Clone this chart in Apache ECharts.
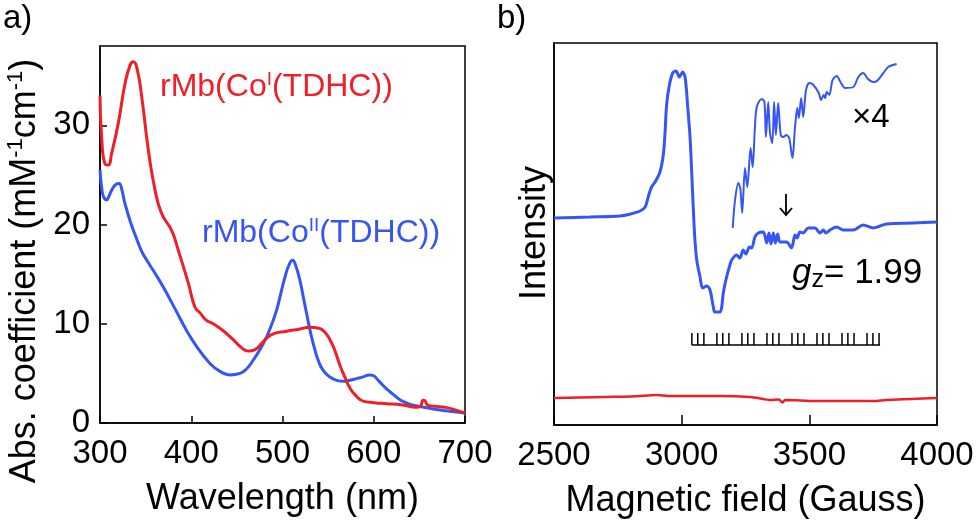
<!DOCTYPE html>
<html>
<head>
<meta charset="utf-8">
<script src="https://cdn.jsdelivr.net/npm/echarts@6/dist/echarts.min.js"></script>
<style>
  html, body { margin: 0; padding: 0; background: #fff; }
  #chart { width: 980px; height: 524px; }
</style>
</head>
<body>
<div id="chart"></div>
<script>
// a) absorption spectra  [wavelength nm, mM-1 cm-1]
var uvCoI = [
  [300, 33.0], [301.8, 28.8], [305.5, 26.1], [309, 26.0], [312.8, 27.2], [320, 30.2],
  [327.4, 34.2], [332.9, 36.05], [336.5, 36.4], [340.2, 35.9], [345.7, 32.9], [353, 27.5],
  [360.3, 23.5], [367.6, 21.1], [378.6, 19.4], [385.8, 17.4], [396.8, 14.1], [404, 11.7],
  [409.6, 11.1], [416, 10.4], [424, 10.0], [435, 9.3], [446, 8.4], [455, 7.6],
  [462.5, 7.25], [470, 7.4], [478, 8.1], [488, 8.9], [504.6, 9.25], [518, 9.45],
  [530, 9.65], [540, 9.55], [546, 9.2], [552, 8.4], [557, 7.4], [563, 5.8],
  [568, 4.7], [574, 3.5], [581, 2.7], [588.5, 2.2], [600, 2.05], [614, 1.95],
  [630, 1.85], [647, 1.6], [651, 1.65], [654, 2.3], [656, 2.25], [659, 1.8],
  [665, 1.7], [680, 1.55], [690, 1.3], [700, 1.0]
];
var uvCoII = [
  [300, 25.5], [302, 23.6], [304, 22.8], [307.3, 22.5], [310, 22.9], [313, 23.5],
  [318.3, 24.1], [321, 24.15], [324, 23.5], [327.4, 22.1], [334.7, 19.9], [340, 18.6],
  [345.7, 17.3], [352, 16.3], [360.3, 15.1], [371.2, 13.4], [384, 11.2], [395, 9.3],
  [406, 7.7], [420.5, 6.0], [431.5, 5.2], [442.5, 4.85], [453.4, 5.0], [461, 5.5],
  [468, 6.35], [476, 7.5], [482.7, 8.7], [488, 9.9], [493.6, 11.4], [498, 13.0],
  [502.7, 14.7], [507, 15.9], [511, 16.4], [514, 16.0], [519, 14.4], [523, 12.6],
  [526.5, 11.0], [531, 9.0], [535.6, 7.35], [540, 6.1], [544.7, 5.3], [551, 4.7],
  [559.3, 4.3], [567, 4.2], [574, 4.3], [582, 4.5], [588.5, 4.65], [595, 4.85],
  [599, 4.8], [605, 4.3], [611, 3.7], [617.8, 3.15], [625, 2.6], [632.4, 2.15],
  [641, 1.85], [650.7, 1.65], [660, 1.5], [672.6, 1.3], [686, 1.15], [700, 1.0]
];

// b) EPR  [field Gauss, intensity a.u.]
var eprCoII = [
  [2500, 207], [2641, 208], [2758, 209], [2800, 211], [2837, 214], [2857, 218],
  [2869, 228], [2882, 238], [2896, 243], [2915, 253], [2928, 270], [2935, 293],
  [2941, 320], [2952, 340], [2965, 352], [2978, 354], [2991, 348], [3004, 353],
  [3014, 347], [3024, 317], [3033, 287], [3042, 237], [3048, 203], [3052, 185],
  [3059, 165], [3072, 148], [3082, 137], [3098, 139], [3111, 135], [3124, 118],
  [3130, 113], [3150, 113], [3157, 118], [3163, 132], [3176, 148], [3189, 160],
  [3196, 165], [3215, 170], [3228, 167], [3241, 175], [3252, 171], [3265, 178],
  [3274, 177], [3287, 188], [3300, 192], [3320, 193], [3333, 182], [3342, 192],
  [3350, 181], [3359, 192], [3367, 182], [3376, 191], [3385, 183], [3411, 183],
  [3430, 177], [3444, 190], [3452, 187], [3463, 193], [3475, 192], [3496, 197],
  [3522, 197], [3542, 192], [3555, 195], [3565, 192], [3581, 195], [3607, 198],
  [3633, 195], [3672, 195], [3711, 200], [3750, 197], [3802, 201], [3907, 202],
  [4000, 203]
];
var eprCoIIx4 = [
  [3200, 197], [3209, 225], [3222, 242], [3230, 236], [3237, 212], [3248, 257],
  [3257, 238], [3270, 277], [3278, 258], [3287, 298], [3294, 318], [3313, 326],
  [3324, 323], [3330, 288], [3339, 323], [3346, 292], [3355, 282], [3362, 323],
  [3369, 290], [3378, 322], [3388, 290], [3398, 288], [3410, 290], [3421, 287],
  [3434, 267], [3444, 298], [3453, 317], [3459, 307], [3468, 327], [3476, 308],
  [3487, 335], [3500, 342], [3516, 340], [3537, 332], [3546, 325], [3556, 330],
  [3562, 327], [3568, 333], [3578, 330], [3591, 345], [3607, 349], [3622, 343],
  [3640, 337], [3672, 338], [3692, 348], [3711, 352], [3730, 346], [3750, 343],
  [3765, 344], [3790, 352], [3809, 358], [3842, 361]
];
var eprCoI = [
  [2500, 27], [2600, 27.5], [2700, 28], [2800, 28.5], [2870, 29.5], [2902, 30],
  [2950, 29], [3050, 29], [3150, 29], [3268, 28], [3320, 26], [3346, 25],
  [3380, 25.5], [3395, 22.5], [3405, 25], [3529, 24], [3650, 24], [3750, 24],
  [3800, 25], [3900, 26], [4000, 27]
];

// hyperfine stick pattern (Gauss)
var stickFields = [
  3040, 3063, 3087, 3138, 3161, 3185, 3236, 3259, 3283, 3334, 3357, 3381,
  3432, 3455, 3479, 3530, 3553, 3577, 3628, 3651, 3675, 3726, 3749, 3773
];
var stickBase = 80;
var stickTop = 92;

var RED = '#f01e26';
var BLUE = '#3655f5';
var FONT = 'Liberation Sans, Arial, sans-serif';

var chart = echarts.init(document.getElementById('chart'));

function xAx(grid, min, max, interval, name, tickLen) {
  return {
    type: 'value', gridIndex: grid, min: min, max: max, interval: interval,
    name: name, nameLocation: 'middle', nameGap: 58,
    nameTextStyle: { color: '#000', fontSize: 36, fontFamily: FONT },
    axisLine: { show: true, lineStyle: { color: '#000', width: 1.5 } },
    axisTick: { show: true, inside: true, length: tickLen, lineStyle: { color: '#000', width: 1.5 } },
    axisLabel: {
      color: '#000', fontSize: 33, fontFamily: FONT, margin: 14,
      formatter: function (v) { return String(v); }
    },
    splitLine: { show: false }
  };
}

var option = {
  animation: false,
  grid: [
    { left: 100, top: 46, width: 365, height: 377, show: true, borderColor: '#000', borderWidth: 1.5 },
    { left: 554, top: 43, width: 383, height: 382, show: true, borderColor: '#000', borderWidth: 1.5 }
  ],
  xAxis: [
    xAx(0, 300, 700, 100, 'Wavelength (nm)', 7),
    xAx(1, 2500, 4000, 500, 'Magnetic field (Gauss)', 10)
  ],
  yAxis: [
    {
      type: 'value', gridIndex: 0, min: 0, max: 38, interval: 10,
      axisLine: { show: true, lineStyle: { color: '#000', width: 1.5 } },
      axisTick: { show: true, inside: true, length: 7, lineStyle: { color: '#000', width: 1.5 } },
      axisLabel: { color: '#000', fontSize: 33, fontFamily: FONT, margin: 10, showMaxLabel: false },
      splitLine: { show: false }
    },
    {
      type: 'value', gridIndex: 1, min: 0, max: 382,
      axisLine: { show: true, lineStyle: { color: '#000', width: 1.5 } },
      axisTick: { show: false },
      axisLabel: { show: false },
      splitLine: { show: false }
    }
  ],
  series: [
    {
      type: 'line', xAxisIndex: 0, yAxisIndex: 0, data: uvCoII, showSymbol: false,
      smooth: 0.5, lineStyle: { color: BLUE, width: 3 }
    },
    {
      type: 'line', xAxisIndex: 0, yAxisIndex: 0, data: uvCoI, showSymbol: false,
      smooth: 0.5, lineStyle: { color: RED, width: 3 }
    },
    {
      type: 'line', xAxisIndex: 1, yAxisIndex: 1, data: eprCoII, showSymbol: false,
      smooth: 0.3, lineStyle: { color: BLUE, width: 3 }
    },
    {
      type: 'line', xAxisIndex: 1, yAxisIndex: 1, data: eprCoIIx4, showSymbol: false,
      smooth: 0.3, lineStyle: { color: BLUE, width: 2 }
    },
    {
      type: 'line', xAxisIndex: 1, yAxisIndex: 1, data: eprCoI, showSymbol: false,
      smooth: 0.3, lineStyle: { color: RED, width: 2.5 }
    },
    {
      type: 'line', xAxisIndex: 1, yAxisIndex: 1, showSymbol: false,
      data: [[stickFields[0], stickBase], [stickFields[stickFields.length - 1] + 4, stickBase]],
      lineStyle: { color: '#000', width: 1.5 }
    },
    {
      type: 'custom', xAxisIndex: 1, yAxisIndex: 1,
      data: stickFields.map(function (f) { return [f]; }),
      renderItem: function (params, api) {
        var p0 = api.coord([api.value(0), stickBase]);
        var p1 = api.coord([api.value(0), stickTop]);
        return {
          type: 'line',
          shape: { x1: p0[0], y1: p0[1], x2: p1[0], y2: p1[1] },
          style: { stroke: '#000', lineWidth: 1.5 }
        };
      }
    }
  ],
  graphic: [
    { type: 'text', left: 3, top: 2, style: { text: 'a)', fontSize: 33, fontFamily: FONT, fill: '#000' } },
    { type: 'text', left: 497, top: 2, style: { text: 'b)', fontSize: 33, fontFamily: FONT, fill: '#000' } },
    {
      type: 'text', x: 25, y: 271, rotation: Math.PI / 2,
      style: {
        text: '{n|Abs. coefficient (mM}{s|-1}{n|cm}{s|-1}{n|)}',
        textAlign: 'center', textVerticalAlign: 'middle', fill: '#000',
        rich: {
          n: { fontSize: 36, fontFamily: FONT, lineHeight: 40, fill: '#000' },
          s: { fontSize: 22, fontFamily: FONT, lineHeight: 40, verticalAlign: 'top', fill: '#000' }
        }
      }
    },
    {
      type: 'text', x: 535, y: 233, rotation: Math.PI / 2,
      style: { text: 'Intensity', fontSize: 36, fontFamily: FONT, fill: '#000', textAlign: 'center', textVerticalAlign: 'middle' }
    },
    {
      type: 'text', x: 160, y: 87,
      style: {
        text: '{n|rMb(Co}{s|I}{n|(TDHC))}',
        textAlign: 'left', textVerticalAlign: 'middle', fill: RED,
        rich: {
          n: { fontSize: 32, fontFamily: FONT, lineHeight: 34, fill: RED },
          s: { fontSize: 19, fontFamily: FONT, lineHeight: 34, verticalAlign: 'top', fill: RED }
        }
      }
    },
    {
      type: 'text', x: 202, y: 233,
      style: {
        text: '{n|rMb(Co}{s|II}{n|(TDHC))}',
        textAlign: 'left', textVerticalAlign: 'middle', fill: BLUE,
        rich: {
          n: { fontSize: 32, fontFamily: FONT, lineHeight: 34, fill: BLUE },
          s: { fontSize: 19, fontFamily: FONT, lineHeight: 34, verticalAlign: 'top', fill: BLUE }
        }
      }
    },
    {
      type: 'text', x: 852, y: 118,
      style: { text: '×4', fontSize: 33, fontFamily: FONT, fill: '#000', textAlign: 'left', textVerticalAlign: 'middle' }
    },
    {
      type: 'text', x: 792, y: 273,
      style: {
        text: '{g|g}{z|z}{n|= 1.99}',
        textAlign: 'left', textVerticalAlign: 'middle', fill: '#000',
        rich: {
          g: { fontSize: 35, fontFamily: FONT, fontStyle: 'italic', lineHeight: 40, fill: '#000' },
          z: { fontSize: 25, fontFamily: FONT, lineHeight: 20, verticalAlign: 'bottom', fill: '#000' },
          n: { fontSize: 35, fontFamily: FONT, lineHeight: 40, fill: '#000' }
        }
      }
    },
    // arrow marking g_z
    { type: 'line', shape: { x1: 786, y1: 194, x2: 786, y2: 215 }, style: { stroke: '#000', lineWidth: 1.8 } },
    { type: 'polyline', shape: { points: [[780, 208], [786, 215], [792, 208]] }, style: { stroke: '#000', lineWidth: 1.8, fill: null } }
  ]
};

chart.setOption(option);
</script>
</body>
</html>
